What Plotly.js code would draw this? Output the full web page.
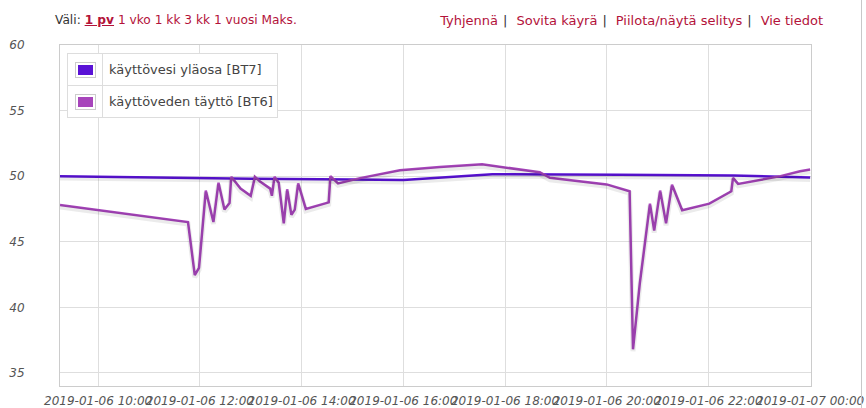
<!DOCTYPE html>
<html>
<head>
<meta charset="utf-8">
<script src="https://cdn.plot.ly/plotly-3.0.1.min.js"></script>
<style>
  html, body { margin: 0; padding: 0; background: #fff; }
  #wrap { position: relative; width: 866px; height: 408px; overflow: hidden; }
  #chart { position: absolute; left: 0; top: 0; width: 866px; height: 408px; }
  .bar { position: absolute; top: 13px; font-family: "DejaVu Sans", sans-serif; white-space: nowrap; color: #b3123a; }
  .bar .lbl { color: #333; }
  .bar .sel { font-weight: bold; text-decoration: underline; }
  .bar .sep { color: #333; margin: 0 9px 0 5px; }
  #leftbar { left: 55px; font-size: 12.2px; }
  #rightbar { right: 43px; font-size: 13px; }
  #legend { position: absolute; left: 67px; top: 53px; border-collapse: collapse; background: #fff;
            font-family: "DejaVu Sans", sans-serif; font-size: 13px; color: #444; }
  #legend td { border: 1px solid #ddd; height: 31px; padding: 0; }
  #legend td.sw { width: 34px; text-align: center; }
  #legend td.tx { width: 168px; padding-left: 6px; }
  .swbox { display: inline-block; border: 1px solid #ccc; padding: 2px; vertical-align: middle; }
  .swbox div { width: 15px; height: 10px; }
  #rborder { position: absolute; left: 861px; top: 0; width: 1px; height: 408px; background: #c8c8c8; }
</style>
</head>
<body>
<div id="wrap">
  <div id="chart"></div>
  <div id="leftbar" class="bar"></div>
  <div id="rightbar" class="bar"></div>
  <table id="legend"></table>
  <div id="rborder"></div>
</div>
<script>
// ---- data ----
const rangeLabel = "Väli:";
const rangeOptions = ["1 pv", "1 vko", "1 kk", "3 kk", "1 vuosi", "Maks."];
const actionLinks = ["Tyhjennä", "Sovita käyrä", "Piilota/näytä selitys", "Vie tiedot"];

const seriesNames = ["käyttövesi yläosa [BT7]", "käyttöveden täyttö [BT6]"];
const seriesColors = ["#5a12d6", "#a745bb"];

const bt7Times = [
  "2019-01-06 09:15", "2019-01-06 11:00", "2019-01-06 13:00", "2019-01-06 15:00",
  "2019-01-06 16:00", "2019-01-06 17:45", "2019-01-06 18:15", "2019-01-06 20:15",
  "2019-01-06 22:30", "2019-01-07 00:00"
];
const bt7Values = [50.0, 49.9, 49.8, 49.75, 49.7, 50.15, 50.15, 50.1, 50.05, 49.9];

const bt6Times = [
  "2019-01-06 09:15", "2019-01-06 11:46", "2019-01-06 11:54", "2019-01-06 11:59",
  "2019-01-06 12:07", "2019-01-06 12:16", "2019-01-06 12:22", "2019-01-06 12:29",
  "2019-01-06 12:35", "2019-01-06 12:37", "2019-01-06 12:48", "2019-01-06 13:00",
  "2019-01-06 13:05", "2019-01-06 13:11", "2019-01-06 13:23", "2019-01-06 13:25",
  "2019-01-06 13:28", "2019-01-06 13:33", "2019-01-06 13:39", "2019-01-06 13:43",
  "2019-01-06 13:48", "2019-01-06 13:52", "2019-01-06 13:56", "2019-01-06 14:05",
  "2019-01-06 14:32", "2019-01-06 14:34", "2019-01-06 14:43", "2019-01-06 15:09",
  "2019-01-06 15:56", "2019-01-06 16:43", "2019-01-06 17:33", "2019-01-06 18:41",
  "2019-01-06 18:53", "2019-01-06 20:00", "2019-01-06 20:27", "2019-01-06 20:31",
  "2019-01-06 20:39", "2019-01-06 20:51", "2019-01-06 20:56", "2019-01-06 21:03",
  "2019-01-06 21:10", "2019-01-06 21:17", "2019-01-06 21:29", "2019-01-06 22:01",
  "2019-01-06 22:27", "2019-01-06 22:29", "2019-01-06 22:35", "2019-01-06 23:25",
  "2019-01-06 23:48", "2019-01-07 00:00"
];
const bt6Values = [
  47.8, 46.5, 42.45, 43.0,
  48.9, 46.5, 49.5, 47.45,
  47.95, 49.95, 49.05, 48.5,
  49.95, 49.6, 49.05, 48.5,
  49.95, 49.5, 46.4, 49.0,
  47.05, 47.45, 49.45, 47.5,
  48.0, 50.0, 49.45, 49.85,
  50.45, 50.7, 50.9, 50.3,
  49.87, 49.37, 48.85, 36.8,
  41.8, 47.9, 45.85, 48.9,
  46.4, 49.35, 47.4, 47.9,
  48.85, 49.87, 49.41, 50.0,
  50.38, 50.5
];

const xRange = ["2019-01-06 09:15", "2019-01-07 00:01"];
const yRange = [34, 60];

// ---- top bars ----
const lb = document.getElementById("leftbar");
lb.innerHTML = '<span class="lbl">' + rangeLabel + '</span> ' +
  rangeOptions.map((o, i) => i === 0 ? '<span class="sel">' + o + '</span>' : o).join(" ");
const rb = document.getElementById("rightbar");
rb.innerHTML = actionLinks.map(a => '<span>' + a + '</span>').join('<span class="sep">|</span>');

// ---- legend ----
const lg = document.getElementById("legend");
lg.innerHTML = seriesNames.map((n, i) =>
  '<tr><td class="sw"><span class="swbox"><div style="background:' + seriesColors[i] + '"></div></span></td>' +
  '<td class="tx">' + n + '</td></tr>').join("");

// ---- chart ----
const traces = [
  { x: bt7Times, y: bt7Values, name: seriesNames[0], mode: "lines", type: "scatter",
    line: { color: "rgba(0,0,0,0.08)", width: 5 }, hoverinfo: "skip", showlegend: false, yaxis: "y2" },
  { x: bt6Times, y: bt6Values, name: seriesNames[1], mode: "lines", type: "scatter",
    line: { color: "rgba(0,0,0,0.08)", width: 5 }, hoverinfo: "skip", showlegend: false, yaxis: "y2" },
  { x: bt7Times, y: bt7Values, name: seriesNames[0], mode: "lines", type: "scatter",
    line: { color: seriesColors[0], width: 2.5 } },
  { x: bt6Times, y: bt6Values, name: seriesNames[1], mode: "lines", type: "scatter",
    line: { color: seriesColors[1], width: 2.5 } }
];

const tickFont = { family: "DejaVu Sans", size: 12, color: "#555", style: "italic" };

const layout = {
  width: 866, height: 408,
  margin: { l: 60, r: 55, t: 45, b: 22, pad: 0 },
  paper_bgcolor: "#fff", plot_bgcolor: "#fff",
  showlegend: false,
  xaxis: {
    type: "date", range: xRange,
    tick0: "2019-01-06 10:00", dtick: 7200000,
    tickformat: "%Y-%m-%d %H:%M", tickangle: 0,
    tickfont: tickFont, ticks: "", ticklabelstandoff: 4,
    showgrid: true, gridcolor: "#dedede", gridwidth: 1,
    showline: true, linecolor: "#cccccc", linewidth: 1, mirror: true,
    zeroline: false, fixedrange: true
  },
  yaxis: {
    range: yRange, dtick: 5, tick0: 35,
    tickfont: tickFont, ticks: "", ticklabelstandoff: 32,
    showgrid: true, gridcolor: "#dedede", gridwidth: 1,
    showline: true, linecolor: "#cccccc", linewidth: 1, mirror: true,
    zeroline: false, fixedrange: true
  },
  yaxis2: {
    range: [yRange[0] + 0.15, yRange[1] + 0.15], overlaying: "y", visible: false, fixedrange: true
  }
};

Plotly.newPlot("chart", traces, layout, { displayModeBar: false, staticPlot: true });
</script>
</body>
</html>
